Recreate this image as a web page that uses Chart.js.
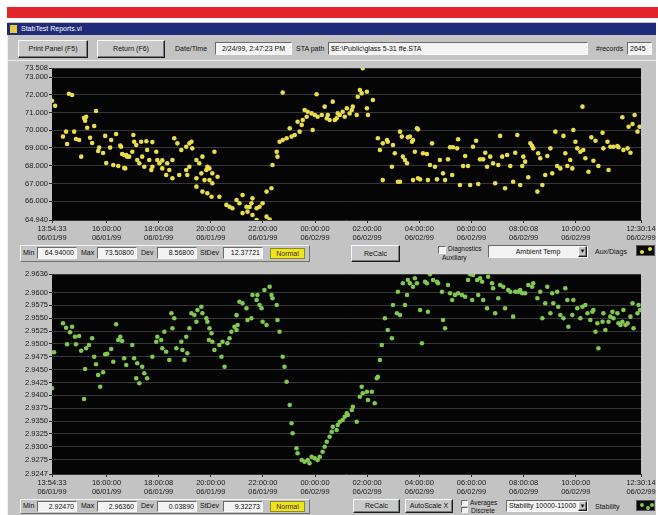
<!DOCTYPE html>
<html>
<head>
<meta charset="utf-8">
<script src="https://cdn.jsdelivr.net/npm/chart.js@4"></script>
<style>
html,body{margin:0;padding:0;background:#fff;width:658px;height:515px;overflow:hidden;font-family:"Liberation Sans",Arial,sans-serif;}
.a{position:absolute;box-sizing:border-box;white-space:nowrap;}
#redbar{left:7px;top:7px;width:651px;height:11px;background:#e3242b;}
#win{left:7px;top:22px;width:649px;height:493px;background:#c3c3c3;border-left:1px solid #efefef;}
#title{left:7px;top:23px;width:649px;height:12px;background:#1f2b7a;color:#fff;font-size:7px;line-height:12px;padding-left:14px;}
#ico{left:10px;top:25px;width:7px;height:8px;background:#e8c840;}
.btn{background:#c9c9c9;border:1px solid;border-color:#fafafa #1c1c1c #1c1c1c #fafafa;box-shadow:inset -1px -1px 0 #7a7a7a;font-size:7px;text-align:center;color:#111;}
.box{background:#f3f3f3;border:1px solid;border-color:#6a6a6a #fafafa #fafafa #6a6a6a;font-size:7px;color:#111;padding:0 2px;}
.lbl{font-size:7px;color:#111;}
.frame{border:1px solid;border-color:#f2f2f2 #707070 #707070 #f2f2f2;}
.norm{background:#f1e21a;font-size:7px;text-align:center;color:#333;border:1px solid #8a8a30;}
.led{background:#0a0a0a;border:1px solid #555;}
.dot{position:absolute;width:4px;height:4px;border-radius:2px;}
canvas{position:absolute;left:0;}
</style>
</head>
<body>
<div class="a" id="redbar"></div>
<div class="a" id="win"></div>
<div class="a" id="title">StabTest Reports.vi</div>
<div class="a" id="ico"></div>

<!-- toolbar -->
<div class="a btn" style="left:18px;top:40px;width:70px;height:18px;line-height:16px;">Print Panel (F5)</div>
<div class="a btn" style="left:97px;top:40px;width:68px;height:18px;line-height:16px;">Return (F6)</div>
<div class="a lbl" style="left:175px;top:45px;">Date/Time</div>
<div class="a box" style="left:215px;top:42px;width:77px;height:13px;line-height:11px;text-align:center;">2/24/99, 2:47:23 PM</div>
<div class="a lbl" style="left:296px;top:45px;">STA path</div>
<div class="a box" style="left:328px;top:42px;width:260px;height:13px;line-height:11px;">$E:\Public\glass 5-31 ffe.STA</div>
<div class="a lbl" style="left:596px;top:45px;">#records</div>
<div class="a box" style="left:627px;top:42px;width:25px;height:13px;line-height:11px;">2645</div>
<div class="a" style="left:8px;top:60px;width:648px;height:1px;background:#ededed;"></div>

<!-- upper stats row -->
<div class="a frame" style="left:20px;top:245px;width:290px;height:17px;"></div>
<div class="a lbl" style="left:23px;top:249px;">Min</div>
<div class="a box" style="left:37px;top:247px;width:40px;height:12px;line-height:10px;text-align:right;">64.94000</div>
<div class="a lbl" style="left:81px;top:249px;">Max</div>
<div class="a box" style="left:97px;top:247px;width:40px;height:12px;line-height:10px;text-align:right;">73.50800</div>
<div class="a lbl" style="left:141px;top:249px;">Dev</div>
<div class="a box" style="left:157px;top:247px;width:40px;height:12px;line-height:10px;text-align:right;">8.56800</div>
<div class="a lbl" style="left:200px;top:249px;">StDev</div>
<div class="a box" style="left:223px;top:247px;width:40px;height:12px;line-height:10px;text-align:right;">12.37721</div>
<div class="a norm" style="left:270px;top:248px;width:35px;height:11px;line-height:9px;">Normal</div>
<div class="a btn" style="left:351px;top:245px;width:49px;height:17px;line-height:15px;">ReCalc</div>
<div class="a box" style="left:438px;top:246px;width:8px;height:8px;"></div>
<div class="a lbl" style="left:448px;top:245px;font-size:6.5px;">Diagnostics</div>
<div class="a lbl" style="left:442px;top:254px;font-size:6.5px;">Auxiliary</div>
<div class="a box" style="left:488px;top:245px;width:100px;height:13px;line-height:11px;text-align:center;">Ambient Temp</div>
<div class="a btn" style="left:578px;top:246px;width:9px;height:11px;line-height:8px;font-size:6px;">&#9660;</div>
<div class="a lbl" style="left:595px;top:248px;">Aux/Diags</div>
<div class="a led" style="left:636px;top:245px;width:19px;height:11px;">
  <span class="dot" style="left:3px;top:4px;background:#e8dc4c;"></span>
  <span class="dot" style="left:11px;top:1px;background:#e8dc4c;"></span>
</div>

<!-- lower stats row -->
<div class="a frame" style="left:20px;top:499px;width:290px;height:15px;"></div>
<div class="a lbl" style="left:23px;top:502px;">Min</div>
<div class="a box" style="left:37px;top:501px;width:40px;height:11px;line-height:9px;text-align:right;">2.92470</div>
<div class="a lbl" style="left:81px;top:502px;">Max</div>
<div class="a box" style="left:97px;top:501px;width:40px;height:11px;line-height:9px;text-align:right;">2.96360</div>
<div class="a lbl" style="left:141px;top:502px;">Dev</div>
<div class="a box" style="left:157px;top:501px;width:40px;height:11px;line-height:9px;text-align:right;">0.03890</div>
<div class="a lbl" style="left:200px;top:502px;">StDev</div>
<div class="a box" style="left:223px;top:501px;width:40px;height:11px;line-height:9px;text-align:right;">9.32273</div>
<div class="a norm" style="left:270px;top:501px;width:35px;height:11px;line-height:9px;">Normal</div>
<div class="a btn" style="left:353px;top:499px;width:47px;height:14px;line-height:12px;">ReCalc</div>
<div class="a btn" style="left:405px;top:499px;width:48px;height:14px;line-height:12px;">AutoScale X</div>
<div class="a box" style="left:461px;top:500px;width:7px;height:6px;"></div>
<div class="a box" style="left:461px;top:507px;width:7px;height:6px;"></div>
<div class="a lbl" style="left:470px;top:499px;font-size:6.5px;">Averages</div>
<div class="a lbl" style="left:471px;top:507px;font-size:6.5px;">Discrete</div>
<div class="a box" style="left:506px;top:500px;width:82px;height:12px;line-height:10px;">Stability 10000-11000</div>
<div class="a btn" style="left:578px;top:501px;width:9px;height:10px;line-height:8px;font-size:6px;">&#9660;</div>
<div class="a lbl" style="left:595px;top:503px;">Stability</div>
<div class="a led" style="left:636px;top:500px;width:19px;height:11px;">
  <span class="dot" style="left:3px;top:2px;background:#7ec850;"></span>
  <span class="dot" style="left:9px;top:5px;background:#7ec850;"></span>
  <span class="dot" style="left:13px;top:2px;background:#7ec850;"></span>
</div>

<canvas id="tempChart" width="658" height="182" style="top:62px;"></canvas>
<canvas id="stabChart" width="658" height="230" style="top:268px;"></canvas>

<script>
// Time axis: hours elapsed since 13:54:33 on 06/01/99
const timeTickHours = [0, 2.091, 4.093, 6.091, 8.091, 10.091, 12.091, 14.091, 16.091, 18.093, 20.091, 22.595];
const timeTickLabels = [
  ["13:54:33", "06/01/99"], ["16:00:00", "06/01/99"], ["18:00:08", "06/01/99"],
  ["20:00:00", "06/01/99"], ["22:00:00", "06/01/99"], ["00:00:00", "06/02/99"],
  ["02:00:00", "06/02/99"], ["04:00:00", "06/02/99"], ["06:00:00", "06/02/99"],
  ["08:00:08", "06/02/99"], ["10:00:00", "06/02/99"], ["12:30:14", "06/02/99"]
];

// Ambient temperature
const tempTicks = [73.508, 73, 72, 71, 70, 69, 68, 67, 66, 64.94];
const tempTickLabels = ["73.508", "73.000", "72.000", "71.000", "70.000", "69.000", "68.000", "67.000", "66.000", "64.940"];
const tempHours = [
  0.00,0.12,0.65,0.77,1.23,1.27,1.31,1.69,1.35,1.62,0.54,0.42,0.58,0.85,0.92,1.04,1.12,1.46,1.54,1.81,
  1.77,1.96,2.04,2.23,2.27,2.46,2.62,2.69,2.77,2.88,2.08,2.35,2.54,2.77,3.12,3.15,3.23,3.42,3.62,3.85,
  2.65,2.85,2.96,3.08,3.27,3.46,3.65,3.73,3.85,4.00,4.04,4.12,4.23,4.42,4.62,4.69,4.81,4.96,5.15,5.27,
  5.35,5.38,5.54,5.65,5.77,5.92,5.96,6.04,6.15,6.23,2.81,3.35,3.54,3.81,4.23,4.38,4.50,4.62,4.88,5.15,
  5.19,5.27,5.54,5.73,5.85,6.04,6.15,6.35,5.54,5.77,5.96,6.12,6.42,6.69,6.81,6.92,7.08,7.19,7.31,7.46,
  7.50,7.65,7.69,7.85,7.96,8.08,8.23,8.42,8.23,7.31,7.69,7.85,8.35,7.58,8.46,8.62,8.65,8.73,8.85,9.00,
  9.12,9.19,9.31,9.50,10.00,9.62,9.77,9.81,9.96,10.19,10.35,10.46,10.58,10.65,10.77,10.92,11.04,11.15,11.31,11.42,
  11.54,11.69,11.81,11.88,12.08,12.12,12.08,12.31,11.92,8.85,10.15,9.58,9.42,9.69,10.08,10.54,10.85,10.96,11.23,11.50,
  11.73,12.50,12.69,12.85,12.88,12.58,13.08,13.15,13.04,13.35,13.42,13.46,13.54,13.62,13.73,13.85,14.00,13.92,12.69,13.27,
  13.85,14.04,13.65,13.81,14.04,13.35,14.12,14.23,14.38,14.58,14.50,14.69,14.42,14.77,14.88,15.00,15.08,15.19,15.27,15.38,
  15.54,15.58,15.35,15.65,15.77,15.85,15.96,16.04,16.15,16.27,16.35,16.42,16.54,16.62,16.69,16.81,16.92,17.00,17.12,17.19,
  17.27,17.38,17.46,17.58,17.69,17.77,17.85,17.96,18.04,18.08,18.15,18.27,18.35,18.42,18.46,18.65,18.73,18.81,18.62,18.92,
  19.00,19.12,19.19,19.31,19.38,19.50,19.62,19.69,19.77,19.88,19.96,20.00,20.08,20.15,20.27,20.35,20.38,20.46,20.58,20.69,
  20.77,20.85,20.96,21.12,21.15,21.31,21.35,21.42,21.54,21.69,21.73,21.88,21.92,22.08,22.19,22.12,22.27,22.35,22.46,22.54
];
const tempValues = [
  71.66,71.38,72.06,71.99,70.69,70.54,70.76,71.08,70.14,70.24,69.92,69.64,69.22,69.92,69.51,69.45,68.51,69.58,69.28,69.02,
  68.83,68.72,69.68,69.02,69.45,69.79,69.13,68.66,68.60,68.51,68.15,68.04,67.98,67.87,69.73,69.35,69.17,69.35,69.38,69.33,
  69.07,68.60,68.51,68.79,68.32,68.51,68.89,68.32,67.94,68.79,68.32,68.14,68.30,68.14,68.32,69.55,69.26,68.89,69.07,69.26,
  69.35,68.98,68.32,68.14,68.51,67.76,67.94,67.85,67.57,68.79,67.85,68.14,67.94,67.76,67.85,67.48,67.76,67.29,67.48,67.76,
  67.48,67.94,67.29,67.57,67.19,67.19,67.01,67.38,66.82,66.54,66.45,66.25,66.25,65.79,65.69,65.60,66.07,65.88,66.35,65.69,
  65.41,65.88,66.16,65.60,65.69,65.88,66.54,66.73,65.13,65.33,65.22,64.94,64.96,65.67,68.04,68.79,68.51,69.35,69.45,69.55,
  70.11,69.64,69.73,69.92,70.01,70.58,70.76,71.04,70.95,70.76,70.86,71.33,70.86,70.58,71.61,70.67,70.86,71.04,71.24,70.95,
  71.33,70.86,72.27,72.08,72.17,70.86,71.24,71.70,73.49,72.12,72.03,70.30,70.48,71.14,70.86,70.67,70.58,70.95,70.76,71.14,
  71.89,69.55,69.26,69.45,69.35,68.89,69.17,68.70,67.94,69.92,69.64,68.51,68.32,68.14,69.64,69.45,70.11,68.79,67.19,67.10,
  67.19,67.29,69.60,69.35,70.05,67.10,67.23,68.70,68.66,69.26,68.04,67.94,67.19,67.23,68.32,67.57,67.19,68.36,69.04,69.04,
  68.98,69.49,67.48,66.91,67.98,68.55,67.98,66.91,69.07,69.41,66.97,68.36,68.36,68.73,67.94,68.51,68.14,67.01,68.04,69.68,
  68.51,66.73,68.60,67.98,67.10,68.73,69.73,66.91,67.98,68.51,68.23,67.35,69.26,69.11,68.98,68.70,68.42,66.91,66.54,67.48,
  68.55,68.98,67.57,69.92,67.98,67.85,69.68,68.70,67.98,68.32,67.85,70.01,69.35,68.98,68.79,71.33,68.89,68.42,67.66,69.60,
  68.28,69.41,67.98,69.86,68.98,69.35,67.76,69.07,69.07,69.11,69.04,70.73,68.89,68.98,68.73,70.20,70.35,70.86,69.92,70.20
];

// Stability
const stabTicks = [2.9636, 2.96, 2.9575, 2.955, 2.9525, 2.95, 2.9475, 2.945, 2.9425, 2.94, 2.9375, 2.935, 2.9325, 2.93, 2.9275, 2.9247];
const stabTickLabels = ["2.9636", "2.9600", "2.9575", "2.9550", "2.9525", "2.9500", "2.9475", "2.9450", "2.9425", "2.9400", "2.9375", "2.9350", "2.9325", "2.9300", "2.9275", "2.9247"];
const stabHours = [
  0.08,0.00,0.42,0.54,0.69,0.77,0.88,1.04,0.58,0.92,1.12,1.31,1.42,1.54,1.62,1.27,1.69,1.77,1.96,1.85,
  1.23,2.04,2.12,2.27,2.35,2.46,2.54,2.62,2.69,2.77,2.85,3.08,3.15,3.27,3.46,3.54,3.23,3.35,3.65,3.85,
  4.00,4.04,4.19,4.31,4.58,4.69,4.62,4.23,4.38,4.50,4.77,4.96,5.00,5.08,5.19,5.15,5.27,5.35,5.46,5.58,
  5.73,5.77,5.54,5.92,5.96,6.04,6.12,6.02,6.15,6.23,6.42,6.50,6.62,6.54,6.73,6.81,6.88,7.00,7.08,7.12,
  7.08,7.19,7.31,7.46,7.50,7.65,7.69,7.88,7.96,8.04,7.85,8.15,8.35,8.42,8.46,8.62,8.65,8.08,8.23,8.73,
  8.85,8.92,9.00,9.12,9.19,9.23,9.38,9.42,9.58,9.69,9.81,9.88,9.96,10.08,10.19,10.27,10.38,10.46,10.54,10.65,
  10.73,10.77,10.92,10.96,11.04,11.15,11.23,11.31,11.35,11.50,11.54,11.69,11.81,11.88,11.92,12.08,12.12,12.27,12.38,12.46,
  12.50,12.58,12.65,12.77,12.88,13.04,13.08,13.23,13.27,13.46,13.62,13.54,13.35,13.65,13.73,13.92,14.00,13.85,14.12,14.19,
  14.31,14.38,14.50,14.42,14.62,14.77,14.81,14.96,15.00,15.08,15.19,15.27,15.35,15.46,15.58,15.73,15.85,15.96,16.04,16.12,
  16.15,16.31,16.42,16.50,16.35,16.54,16.69,16.73,16.88,16.92,17.00,17.12,17.19,17.31,17.38,17.50,17.58,17.69,17.77,17.88,
  17.96,18.04,18.15,18.27,18.42,18.46,18.62,18.73,18.81,18.92,19.00,19.12,19.19,19.23,19.38,19.42,19.50,19.62,19.69,19.77,
  19.81,19.96,20.00,20.15,20.27,20.35,20.46,20.54,20.65,20.73,20.77,20.85,20.92,20.96,21.12,21.15,21.23,21.35,21.42,21.50,
  21.54,21.69,21.73,21.81,21.88,21.92,22.00,22.08,22.19,22.27,22.31,22.46,22.50,22.56
];
const stabValues = [
  2.94837,2.94137,2.95401,2.95316,2.95226,2.95335,2.95140,2.95154,2.94993,2.94993,2.94868,2.94915,2.94979,2.95109,2.94751,2.94512,2.94604,2.94396,2.94448,2.94168,
  2.93929,2.94798,2.94810,2.94901,2.94654,2.95382,2.95076,2.95140,2.95057,2.94720,2.94590,2.94979,2.94720,2.94623,2.94557,2.94429,2.94331,2.94234,2.94331,2.94751,
  2.95043,2.95140,2.95076,2.95238,2.95596,2.95498,2.95304,2.94915,2.94849,2.94687,2.94915,2.95043,2.94882,2.94687,2.94818,2.95140,2.95304,2.95596,2.95563,2.95660,
  2.95724,2.95596,2.95432,2.95498,2.95432,2.95304,2.95207,2.95076,2.95043,2.94882,2.94979,2.94751,2.94557,2.95043,2.95012,2.95109,2.95238,2.95335,2.95271,2.95368,
  2.95560,2.95821,2.95790,2.95693,2.95465,2.95498,2.95952,2.95952,2.95757,2.95693,2.95854,2.96049,2.96113,2.95952,2.95887,2.95757,2.95465,2.95432,2.95368,2.95238,
  2.94751,2.94557,2.94265,2.93812,2.93456,2.93262,2.92970,2.92873,2.92742,2.92709,2.92742,2.92678,2.92806,2.92775,2.92742,2.92806,2.92904,2.93001,2.93098,2.93195,
  2.93293,2.93390,2.93326,2.93423,2.93487,2.93520,2.93584,2.93651,2.93618,2.93715,2.93779,2.93487,2.93973,2.94168,2.94040,2.94071,2.93909,2.94071,2.93845,2.94331,
  2.94362,2.94687,2.94979,2.95498,2.95271,2.95109,2.95757,2.95596,2.96016,2.96179,2.95952,2.95757,2.95563,2.96243,2.96179,2.96276,2.96179,2.96113,2.95660,2.95012,
  2.96210,2.96179,2.96355,2.95627,2.96243,2.96210,2.96179,2.96016,2.95465,2.95304,2.96146,2.95985,2.95854,2.95952,2.95985,2.95952,2.95918,2.96243,2.96355,2.95854,
  2.96341,2.96243,2.96276,2.96210,2.95952,2.95854,2.95693,2.96307,2.96179,2.96082,2.95596,2.95887,2.96146,2.96113,2.95693,2.96049,2.96016,2.95530,2.96016,2.96016,
  2.96049,2.95985,2.95985,2.96146,2.96113,2.96179,2.95887,2.96016,2.95498,2.95790,2.96113,2.95596,2.95985,2.95790,2.96016,2.95724,2.95563,2.95498,2.96082,2.95854,
  2.95335,2.95563,2.95854,2.95693,2.95498,2.95724,2.95757,2.95596,2.95465,2.95627,2.95660,2.95238,2.95401,2.94915,2.95432,2.95596,2.95271,2.95432,2.95530,2.95627,
  2.95498,2.95596,2.95401,2.95368,2.95432,2.95660,2.95368,2.95401,2.95530,2.95790,2.95304,2.95596,2.95757,2.95660
];

// Black plotting surface under the grid
const plotBackground = {
  id: 'plotBackground',
  beforeDraw(chart) {
    const { ctx, chartArea: a } = chart;
    ctx.save();
    ctx.fillStyle = '#050505';
    ctx.fillRect(a.left, a.top, a.right - a.left, a.bottom - a.top);
    ctx.restore();
  }
};

function toPoints(xs, ys) {
  return xs.map((x, i) => ({ x: x, y: ys[i] }));
}

function makeChart(canvasId, xs, ys, color, yTicks, yLabels) {
  return new Chart(document.getElementById(canvasId), {
    type: 'scatter',
    data: {
      datasets: [{
        data: toPoints(xs, ys),
        backgroundColor: color,
        borderWidth: 0,
        pointRadius: 2.3,
        pointHoverRadius: 2.3
      }]
    },
    options: {
      responsive: false,
      animation: false,
      events: [],
      layout: { padding: { top: 6, right: 17, left: 0, bottom: 0 } },
      plugins: { legend: { display: false }, tooltip: { enabled: false } },
      scales: {
        x: {
          type: 'linear',
          min: 0,
          max: timeTickHours[timeTickHours.length - 1],
          border: { display: false },
          grid: { drawOnChartArea: false, tickLength: 3, tickColor: '#2a2a2a' },
          afterBuildTicks(s) { s.ticks = timeTickHours.map(v => ({ value: v })); },
          afterFit(s) { s.height = 24; s.paddingLeft = 0; s.paddingRight = 0; },
          ticks: {
            autoSkip: false,
            maxRotation: 0,
            padding: 2,
            color: '#1a1a1a',
            font: { family: 'Liberation Sans', size: 7.5, lineHeight: 1.15 },
            callback: (v, i) => timeTickLabels[i]
          }
        },
        y: {
          type: 'linear',
          min: yTicks[yTicks.length - 1],
          max: yTicks[0],
          border: { display: false },
          grid: { color: '#363636', lineWidth: 1, tickLength: 3, tickColor: '#2a2a2a' },
          afterBuildTicks(s) { s.ticks = yTicks.map(v => ({ value: v })); },
          afterFit(s) { s.width = 52; s.paddingTop = 0; s.paddingBottom = 0; },
          ticks: {
            autoSkip: false,
            padding: 1,
            color: '#1a1a1a',
            font: { family: 'Liberation Sans', size: 7.5 },
            callback: (v, i) => yLabels[i]
          }
        }
      }
    },
    plugins: [plotBackground]
  });
}

makeChart('tempChart', tempHours, tempValues, '#e9dc4e', tempTicks, tempTickLabels);
makeChart('stabChart', stabHours, stabValues, '#80c852', stabTicks, stabTickLabels);
</script>
</body>
</html>
